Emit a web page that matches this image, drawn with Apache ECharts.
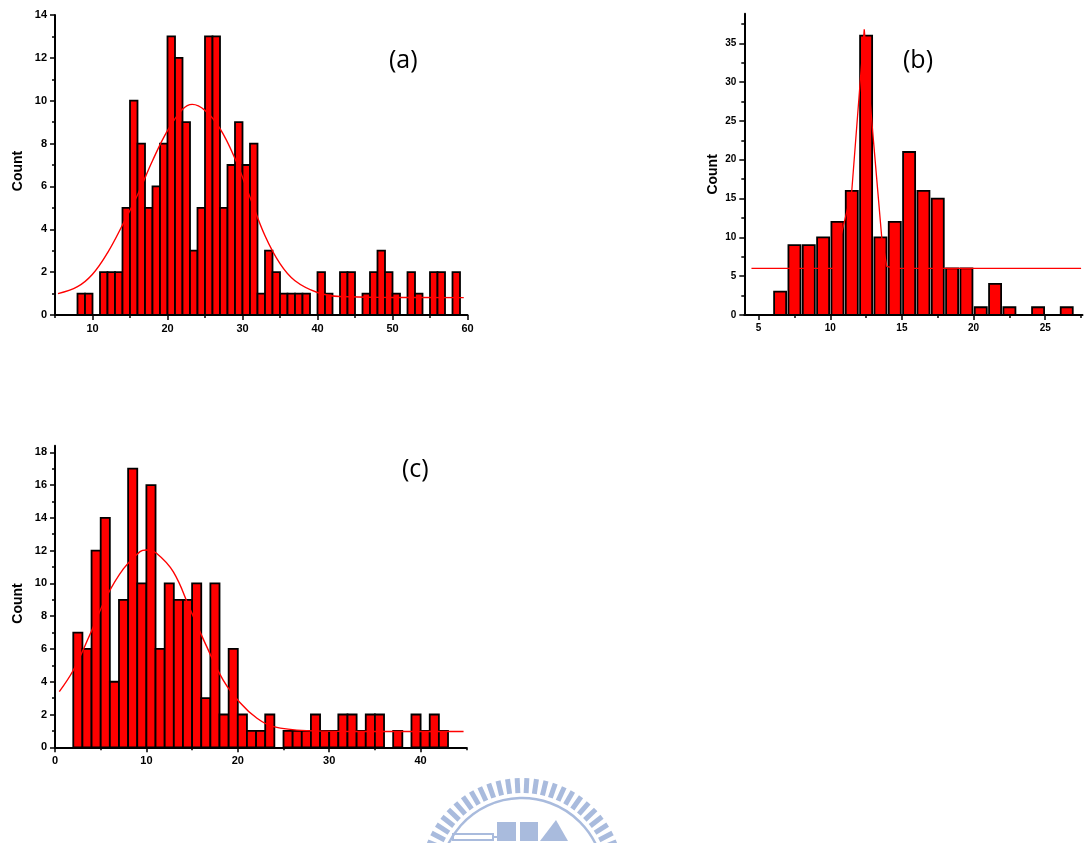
<!DOCTYPE html>
<html>
<head>
<meta charset="utf-8">
<script src="https://cdn.jsdelivr.net/npm/echarts@6/dist/echarts.min.js"></script>
<style>
  html, body { margin: 0; padding: 0; background: #fff; }
  #chart { width: 1086px; height: 843px; }
</style>
</head>
<body>
<div id="chart"></div>
<script>
// (a) histogram, bin width 1, left edges 8..58
var aEdges = [8,9,10,11,12,13,14,15,16,17,18,19,20,21,22,23,24,25,26,27,28,29,30,31,32,33,
  34,35,36,37,38,39,40,41,42,43,44,45,46,47,48,49,50,51,52,53,54,55,56,57,58];
var aCounts = [1,1,0,2,2,2,5,10,8,5,6,8,13,12,9,3,5,13,13,5,7,9,7,8,1,3,
  2,1,1,1,1,0,2,1,0,2,2,0,1,2,3,2,1,0,2,1,0,2,2,0,2];
var aFit = [[5.4,1.0],[8,1.32],[10,1.9],[12,2.9],[14,4.2],[16,5.6],[18,7.2],[20,8.6],[22,9.6],
  [23.3,9.83],[25,9.55],[27,8.7],[29,7.3],[31,5.5],[33,3.7],[35,2.4],[37,1.6],[40,1.05],
  [43,0.86],[50,0.82],[59.5,0.81]];

// (b) histogram, left edges 6..26
var bEdges = [6,7,8,9,10,11,12,13,14,15,16,17,18,19,20,21,22,23,24,25,26];
var bCounts = [3,9,9,10,12,16,36,10,12,21,16,15,6,6,1,4,1,0,1,0,1];
var bFit = [[4.5,6],[10.2,6],[11.5,16],[12.37,36.8],[12.89,25.1],[13.59,10],[13.94,6.25],
  [14.5,6],[27.5,6]];

// (c) histogram, left edges 2..42
var cEdges = [2,3,4,5,6,7,8,9,10,11,12,13,14,15,16,17,18,19,20,21,22,23,24,25,26,27,28,29,
  30,31,32,33,34,35,36,37,38,39,40,41,42];
var cCounts = [7,6,12,14,4,9,17,10,16,6,10,9,9,10,3,10,2,6,2,1,1,2,0,1,1,1,2,1,
  1,2,2,1,2,2,0,1,0,2,1,2,1];
var cFit = [[0.47,3.4],[2,4.7],[3.8,6.85],[5.65,9.2],[7.5,10.9],[9.3,11.94],[10,12.04],
  [11.1,11.84],[12.95,10.7],[14.8,8.4],[16.6,6.14],[18.4,4.1],[20.2,2.75],[22.1,1.77],
  [23.9,1.26],[27.5,1.02],[34.8,0.96],[44.7,0.96]];

// tick values
var aXMajor = [10,20,30,40,50,60], aXMinor = [5,15,25,35,45,55];
var aYMajor = [0,2,4,6,8,10,12,14], aYMinor = [1,3,5,7,9,11,13];
var bXMajor = [5,10,15,20,25], bXMinor = [7.5,12.5,17.5,22.5,27.5];
var bYMajor = [0,5,10,15,20,25,30,35], bYMinor = [2.5,7.5,12.5,17.5,22.5,27.5,32.5,37.5];
var cXMajor = [0,10,20,30,40], cXMinor = [5,15,25,35,45];
var cYMajor = [0,2,4,6,8,10,12,14,16,18], cYMinor = [1,3,5,7,9,11,13,15,17];

var chart = echarts.init(document.getElementById('chart'));

function histData(edges, counts, shrink) {
  var out = [];
  for (var i = 0; i < edges.length; i++) {
    if (counts[i] > 0) out.push([edges[i] + shrink, edges[i] + 1 - shrink, counts[i]]);
  }
  return out;
}

function renderBar(params, api) {
  var p0 = api.coord([api.value(0), api.value(2)]);
  var p1 = api.coord([api.value(1), 0]);
  return {
    type: 'rect',
    shape: { x: p0[0], y: p0[1], width: p1[0] - p0[0], height: p1[1] - p0[1] },
    style: { fill: '#ff0000', stroke: '#000', lineWidth: 1.8 }
  };
}

function mainAxis(grid, min, max, majors, fs, pos, name, gap, shift) {
  var ax = {
    type: 'value', gridIndex: grid, min: min, max: max, position: pos,
    axisLine: { show: true, lineStyle: { color: '#000', width: 2 } },
    axisTick: { show: true, length: 5, customValues: majors, lineStyle: { color: '#000', width: 1.5 } },
    axisLabel: { customValues: majors, color: '#000', fontFamily: 'Liberation Sans', fontWeight: 'bold', fontSize: fs, margin: 8 },
    splitLine: { show: false }
  };
  if (name) {
    ax.name = name;
    ax.nameLocation = 'middle';
    ax.nameGap = gap;
    ax.nameTextStyle = { color: '#000', fontFamily: 'Liberation Sans', fontWeight: 'bold', fontSize: 14,
      padding: [0, shift, 0, 0] };
  }
  return ax;
}

function minorAxis(grid, min, max, minors, pos) {
  return {
    type: 'value', gridIndex: grid, min: min, max: max, position: pos, offset: 0,
    axisLine: { show: false },
    axisTick: { show: true, length: 3, customValues: minors, lineStyle: { color: '#000', width: 1.5 } },
    axisLabel: { show: false },
    splitLine: { show: false }
  };
}

// watermark logo
var wmColor = '#a9bbdd';
var wm = [];
var cx = 522, cy = 880;
for (var k = 0; k < 26; k++) {
  var ang = (22 + k * 5.44) * Math.PI / 180;
  wm.push({
    type: 'line', silent: true,
    shape: { x1: cx + 87 * Math.cos(ang), y1: cy - 87 * Math.sin(ang), x2: cx + 102 * Math.cos(ang), y2: cy - 102 * Math.sin(ang) },
    style: { stroke: wmColor, lineWidth: 5 }
  });
}
wm.push({ type: 'arc', silent: true, shape: { cx: cx, cy: cy, r: 82, startAngle: Math.PI + 0.35, endAngle: 2 * Math.PI - 0.35, clockwise: true },
  style: { stroke: wmColor, fill: null, lineWidth: 2.5 } });
wm.push({ type: 'rect', silent: true, shape: { x: 453, y: 834, width: 40, height: 6 }, style: { stroke: wmColor, fill: null, lineWidth: 2 } });
wm.push({ type: 'line', silent: true, shape: { x1: 493, y1: 837, x2: 497, y2: 837 }, style: { stroke: wmColor, lineWidth: 2 } });
wm.push({ type: 'rect', silent: true, shape: { x: 497, y: 822, width: 19, height: 19 }, style: { fill: wmColor } });
wm.push({ type: 'rect', silent: true, shape: { x: 520, y: 822, width: 18, height: 19 }, style: { fill: wmColor } });
wm.push({ type: 'polygon', silent: true, shape: { points: [[540, 841], [556, 820], [568, 841]] }, style: { fill: wmColor } });

var labelStyle = { fontFamily: 'Open Sans', fontSize: 25, fill: '#000' };

var option = {
  animation: false,
  backgroundColor: '#fff',
  grid: [
    { left: 55, top: 15, width: 412.5, height: 300 },
    { left: 744.3, top: 13.8, width: 338.2, height: 301.2 },
    { left: 55, top: 445.7, width: 411.3, height: 301.6 }
  ],
  xAxis: [
    mainAxis(0, 5, 60, aXMajor, 11, 'bottom'),
    minorAxis(0, 5, 60, aXMinor, 'bottom'),
    mainAxis(1, 4, 27.6, bXMajor, 10, 'bottom'),
    minorAxis(1, 4, 27.6, bXMinor, 'bottom'),
    mainAxis(2, 0, 45, cXMajor, 11, 'bottom'),
    minorAxis(2, 0, 45, cXMinor, 'bottom')
  ],
  yAxis: [
    mainAxis(0, 0, 14, aYMajor, 11, 'left', 'Count', 30, 12),
    minorAxis(0, 0, 14, aYMinor, 'left'),
    mainAxis(1, 0, 38.8, bYMajor, 10, 'left', 'Count', 24, 20),
    minorAxis(1, 0, 38.8, bYMinor, 'left'),
    mainAxis(2, 0, 18.4, cYMajor, 11, 'left', 'Count', 30, 14),
    minorAxis(2, 0, 18.4, cYMinor, 'left')
  ],
  series: [
    { type: 'custom', xAxisIndex: 0, yAxisIndex: 0, renderItem: renderBar, encode: { x: [0, 1], y: 2 }, data: histData(aEdges, aCounts, 0) },
    { type: 'line', xAxisIndex: 0, yAxisIndex: 0, data: aFit, smooth: 0.4, showSymbol: false,
      lineStyle: { color: '#ff0000', width: 1.4 } },
    { type: 'custom', xAxisIndex: 2, yAxisIndex: 2, renderItem: renderBar, encode: { x: [0, 1], y: 2 }, data: histData(bEdges, bCounts, 0.08) },
    { type: 'line', xAxisIndex: 2, yAxisIndex: 2, data: bFit, smooth: false, showSymbol: false,
      lineStyle: { color: '#ff0000', width: 1.3 } },
    { type: 'custom', xAxisIndex: 4, yAxisIndex: 4, renderItem: renderBar, encode: { x: [0, 1], y: 2 }, data: histData(cEdges, cCounts, 0) },
    { type: 'line', xAxisIndex: 4, yAxisIndex: 4, data: cFit, smooth: 0.4, showSymbol: false,
      lineStyle: { color: '#ff0000', width: 1.4 } }
  ],
  graphic: wm.concat([
    { type: 'text', left: 389, top: 48, style: Object.assign({ text: '(a)' }, labelStyle) },
    { type: 'text', left: 903, top: 48, style: Object.assign({ text: '(b)' }, labelStyle) },
    { type: 'text', left: 402, top: 457, style: Object.assign({ text: '(c)' }, labelStyle) }
  ])
};

chart.setOption(option);
</script>
</body>
</html>
